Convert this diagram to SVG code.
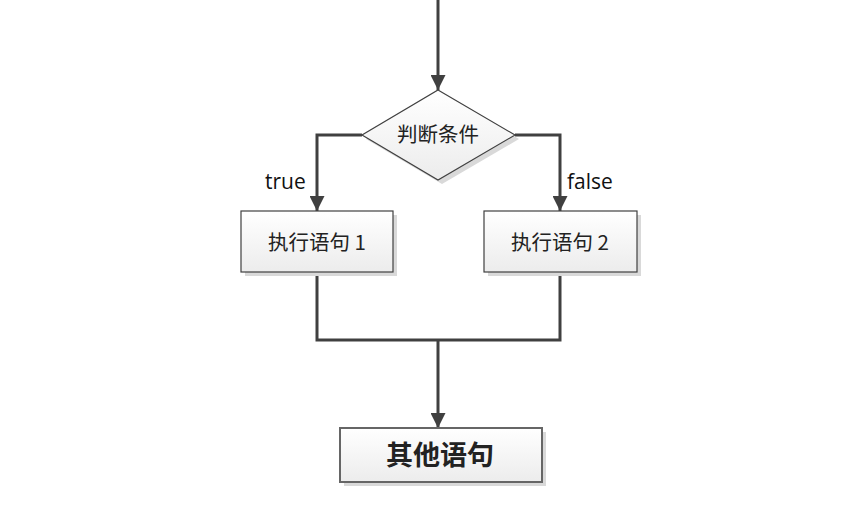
<svg xmlns="http://www.w3.org/2000/svg" width="857" height="517" viewBox="0 0 857 517">
<style>
.ln{fill:none;stroke:#404040;stroke-width:3}
.nd{stroke:#404040;stroke-width:1.2;fill:url(#g)}
.sh{fill:#d9d9d9}
.t{font-family:"Noto Sans CJK SC","Liberation Sans",sans-serif;font-size:20.5px;fill:#222;text-anchor:middle}
.lb{font-family:"Open Sans","Liberation Sans",sans-serif;font-size:21px;fill:#111}
</style>
<defs>
<linearGradient id="g" x1="0" y1="0" x2="0" y2="1">
<stop offset="0" stop-color="#ffffff"/>
<stop offset="1" stop-color="#ececec"/>
</linearGradient>
<marker id="a" viewBox="0 0 10 10" refX="10" refY="5" markerWidth="5" markerHeight="5" orient="auto" markerUnits="strokeWidth">
<path d="M0,0 L10,5 L0,10 z" fill="#404040"/>
</marker>
</defs>
<rect width="857" height="517" fill="#fff"/>
<g id="connectors">
<path class="ln" d="M438,0 V90" marker-end="url(#a)"/>
<path class="ln" d="M362,135 H317 V211" marker-end="url(#a)"/>
<path class="ln" d="M515,135 H560 V211" marker-end="url(#a)"/>
<path class="ln" d="M317,272 V340 H560 V272"/>
<path class="ln" d="M438,340 V428" marker-end="url(#a)"/>
</g>
<g id="cond">
<polygon class="sh" points="442,94 519,139 442,184 366,139"/>
<polygon class="nd" points="438,90 515,135 438,180 362,135"/>
<text class="t" x="438" y="142">判断条件</text>
</g>
<g id="stmt1">
<rect class="sh" x="245" y="215" width="152" height="61"/>
<rect class="nd" x="241" y="211" width="152" height="61"/>
<text class="t" x="317" y="250">执行语句 1</text>
</g>
<g id="stmt2">
<rect class="sh" x="488" y="215" width="153" height="61"/>
<rect class="nd" x="484" y="211" width="153" height="61"/>
<text class="t" x="560" y="250">执行语句 2</text>
</g>
<g id="other">
<rect class="sh" x="344" y="432" width="202" height="54"/>
<rect class="nd" x="340" y="428" width="202" height="54" style="stroke:#666;stroke-width:2"/>
<text class="t" x="440" y="465" style="font-size:27px;font-weight:bold">其他语句</text>
</g>
<g id="labels">
<text class="lb" x="265" y="189">true</text>
<text class="lb" x="567" y="189">false</text>
</g>
</svg>
